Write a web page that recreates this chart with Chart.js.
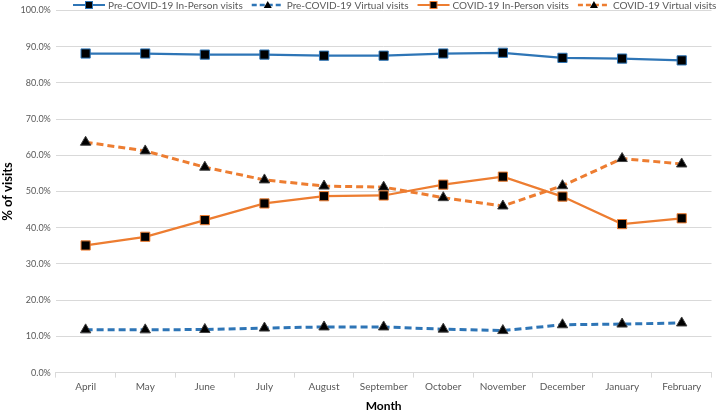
<!DOCTYPE html>
<html>
<head>
<meta charset="utf-8">
<script src="https://cdn.jsdelivr.net/npm/chart.js@4/dist/chart.umd.min.js"></script>
<style>
  body { margin: 0; background: #fff; }
</style>
</head>
<body>
<canvas id="visitsChart" width="719" height="413"></canvas>
<script>
const months = ['April', 'May', 'June', 'July', 'August', 'September', 'October', 'November', 'December', 'January', 'February'];
const preInPerson = [88.1, 88.1, 87.8, 87.8, 87.5, 87.5, 88.1, 88.3, 86.9, 86.7, 86.2];
const preVirtual = [11.8, 11.8, 11.9, 12.3, 12.6, 12.6, 12.0, 11.6, 13.2, 13.4, 13.7];
const covidInPerson = [35.1, 37.5, 42.1, 46.7, 48.7, 48.9, 51.9, 54.1, 48.6, 41.0, 42.6];
const covidVirtual = [63.6, 61.2, 56.7, 53.2, 51.5, 51.2, 48.3, 46.0, 51.6, 59.1, 57.6];

const BLUE = '#2e75b6';
const ORANGE = '#ed7d31';
const FONT = 'Lato, "Liberation Sans", sans-serif';

function series(label, data, color, dashed, marker) {
    return {
        label: label,
        data: data,
        borderColor: color,
        borderWidth: dashed ? 3 : 2.25,
        borderDash: dashed ? [7, 4] : [],
        pointStyle: marker,
        pointRadius: marker === 'rect' ? 6.5 : 6,
        pointBackgroundColor: '#000',
        pointBorderColor: marker === 'rect' ? color : '#404040',
        pointBorderWidth: 1,
        tension: 0
    };
}

// Excel-style legend: line with marker, drawn along the top edge
const topLegend = {
    id: 'topLegend',
    afterDraw(chart) {
        const g = chart.ctx;
        let x = 73;
        const y = 5;
        g.save();
        g.font = '10px ' + FONT;
        g.textBaseline = 'middle';
        chart.data.datasets.forEach(ds => {
            g.strokeStyle = ds.borderColor;
            g.lineWidth = ds.borderDash.length ? 2.5 : 2;
            g.setLineDash(ds.borderDash.length ? [5, 3] : []);
            g.beginPath(); g.moveTo(x, y); g.lineTo(x + 32, y); g.stroke();
            g.setLineDash([]);
            g.fillStyle = '#000';
            const cx = x + 16;
            if (ds.pointStyle === 'rect') {
                g.fillRect(cx - 3.5, y - 3.5, 7, 7);
                g.lineWidth = 1;
                g.strokeRect(cx - 3.5, y - 3.5, 7, 7);
            } else {
                g.beginPath(); g.moveTo(cx, y - 4); g.lineTo(cx + 4, y + 3); g.lineTo(cx - 4, y + 3); g.closePath(); g.fill();
            }
            g.fillStyle = '#595959';
            g.fillText(ds.label, x + 35, y + 0.5);
            x += 35 + g.measureText(ds.label).width + 9;
        });
        g.restore();
    }
};

const ctx = document.getElementById('visitsChart').getContext('2d');
new Chart(ctx, {
    type: 'line',
    data: {
        labels: months,
        datasets: [
            series('Pre-COVID-19 In-Person visits', preInPerson, BLUE, false, 'rect'),
            series('Pre-COVID-19 Virtual visits', preVirtual, BLUE, true, 'triangle'),
            series('COVID-19 In-Person visits', covidInPerson, ORANGE, false, 'rect'),
            series('COVID-19 Virtual visits', covidVirtual, ORANGE, true, 'triangle')
        ]
    },
    plugins: [topLegend],
    options: {
        responsive: false,
        animation: false,
        layout: { padding: { top: 2, right: 1, left: 0, bottom: 0 } },
        plugins: {
            legend: { display: false },
            tooltip: { enabled: false }
        },
        scales: {
            x: {
                offset: true,
                grid: { drawOnChartArea: false, color: '#d9d9d9', tickLength: 5, offset: true },
                border: { color: '#d9d9d9' },
                ticks: {
                    color: '#595959',
                    padding: 3,
                    maxRotation: 0,
                    font: { family: FONT, size: 10 }
                },
                title: {
                    display: true,
                    text: 'Month',
                    color: '#000',
                    padding: { top: 3, bottom: 0 },
                    font: { family: FONT, size: 12, weight: 'bold' }
                }
            },
            y: {
                min: 0,
                max: 100,
                grid: { color: '#d9d9d9', drawTicks: false },
                border: { display: false },
                ticks: {
                    stepSize: 10,
                    color: '#595959',
                    padding: 5,
                    font: { family: FONT, size: 9 },
                    callback: v => v.toFixed(1) + '%'
                },
                title: {
                    display: true,
                    text: '% of visits',
                    color: '#000',
                    padding: { top: 0, bottom: 0 },
                    font: { family: FONT, size: 13, weight: 'bold' }
                }
            }
        }
    }
});
</script>
</body>
</html>
